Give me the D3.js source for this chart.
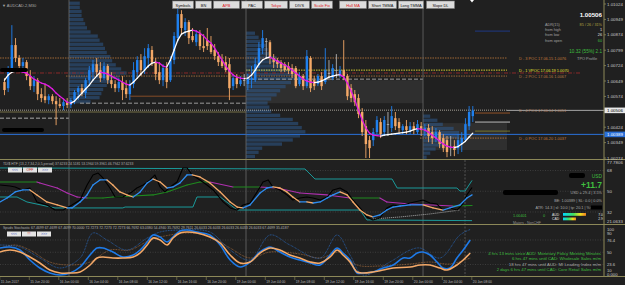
<!DOCTYPE html>
<html>
<head>
<meta charset="utf-8">
<script src="https://cdn.jsdelivr.net/npm/d3@7"></script>
<style>
body { margin: 0; background: #202020; }
svg { display: block; }
text { font-family: "Liberation Sans", Arial, sans-serif; }
</style>
</head>
<body>
<div id="chart-area"></div>
<script>
// AUDCAD M30, 15 Jun 16:00 .. 20 Jun 08:00 (bar index 0..127)
var ohlc = [
 [1.00644,1.00663,1.00580,1.00605],[1.00614,1.00722,1.00595,1.00702],[1.00702,1.00921,1.00692,1.00824],[1.00824,1.00858,1.00741,1.00761],
 [1.00761,1.00775,1.00692,1.00722],[1.00722,1.00761,1.00702,1.00741],[1.00741,1.00751,1.00653,1.00673],[1.00673,1.00702,1.00605,1.00624],
 [1.00624,1.00673,1.00595,1.00653],[1.00653,1.00663,1.00556,1.00585],[1.00585,1.00614,1.00546,1.00566],[1.00575,1.00634,1.00541,1.00556],
 [1.00556,1.00585,1.00536,1.00575],[1.00575,1.00585,1.00536,1.00551],[1.00551,1.00575,1.00434,1.00536],[1.00536,1.00566,1.00517,1.00527],
 [1.00527,1.00556,1.00507,1.00546],[1.00546,1.00566,1.00517,1.00532],[1.00532,1.00566,1.00517,1.00556],[1.00556,1.00605,1.00536,1.00595],
 [1.00595,1.00624,1.00556,1.00614],[1.00614,1.00634,1.00575,1.00590],[1.00590,1.00663,1.00566,1.00653],[1.00653,1.00722,1.00634,1.00702],
 [1.00692,1.00751,1.00653,1.00731],[1.00731,1.00761,1.00673,1.00692],[1.00702,1.00741,1.00644,1.00663],[1.00663,1.00741,1.00653,1.00722],
 [1.00722,1.00731,1.00634,1.00653],[1.00653,1.00692,1.00614,1.00634],[1.00634,1.00653,1.00595,1.00614],[1.00614,1.00663,1.00595,1.00644],
 [1.00644,1.00673,1.00556,1.00605],[1.00614,1.00653,1.00566,1.00585],[1.00585,1.00653,1.00556,1.00634],[1.00634,1.00741,1.00614,1.00702],
 [1.00692,1.00770,1.00663,1.00751],[1.00751,1.00780,1.00673,1.00702],[1.00702,1.00809,1.00683,1.00770],[1.00761,1.00829,1.00712,1.00809],
 [1.00800,1.00819,1.00722,1.00741],[1.00741,1.00761,1.00653,1.00683],[1.00692,1.00741,1.00634,1.00653],[1.00653,1.00731,1.00624,1.00712],
 [1.00712,1.00741,1.00614,1.00644],[1.00653,1.00770,1.00644,1.00751],[1.00751,1.00887,1.00731,1.00868],[1.00858,1.01004,1.00838,1.00975],
 [1.00975,1.00994,1.00877,1.00907],[1.00897,1.00955,1.00868,1.00936],[1.00936,1.00946,1.00829,1.00858],[1.00868,1.00907,1.00838,1.00848],
 [1.00838,1.00897,1.00819,1.00877],[1.00877,1.00897,1.00800,1.00819],[1.00819,1.00877,1.00790,1.00809],[1.00848,1.00907,1.00800,1.00819],
 [1.00829,1.00868,1.00780,1.00790],[1.00800,1.00829,1.00751,1.00770],[1.00770,1.00790,1.00722,1.00741],[1.00751,1.00780,1.00712,1.00722],
 [1.00741,1.00770,1.00692,1.00702],[1.00731,1.00761,1.00556,1.00614],[1.00624,1.00683,1.00605,1.00663],[1.00663,1.00683,1.00614,1.00634],
 [1.00634,1.00673,1.00624,1.00653],[1.00653,1.00683,1.00624,1.00653],[1.00634,1.00683,1.00605,1.00663],[1.00653,1.00722,1.00614,1.00663],
 [1.00653,1.00761,1.00644,1.00731],[1.00731,1.00838,1.00712,1.00809],[1.00809,1.00897,1.00780,1.00858],[1.00843,1.00858,1.00761,1.00843],
 [1.00838,1.00848,1.00731,1.00761],[1.00761,1.00780,1.00712,1.00741],[1.00751,1.00761,1.00712,1.00731],[1.00741,1.00751,1.00692,1.00712],
 [1.00731,1.00741,1.00692,1.00702],[1.00722,1.00741,1.00683,1.00702],[1.00712,1.00731,1.00663,1.00683],[1.00712,1.00722,1.00614,1.00624],
 [1.00634,1.00692,1.00624,1.00673],[1.00673,1.00683,1.00605,1.00624],[1.00624,1.00800,1.00614,1.00770],[1.00761,1.00770,1.00595,1.00614],
 [1.00653,1.00673,1.00605,1.00624],[1.00634,1.00683,1.00624,1.00673],[1.00673,1.00692,1.00605,1.00624],[1.00644,1.00809,1.00634,1.00702],
 [1.00688,1.00751,1.00653,1.00688],[1.00663,1.00731,1.00653,1.00712],[1.00702,1.00780,1.00663,1.00702],[1.00673,1.00722,1.00663,1.00702],
 [1.00702,1.00848,1.00653,1.00673],[1.00673,1.00683,1.00556,1.00575],[1.00614,1.00634,1.00546,1.00566],[1.00585,1.00605,1.00527,1.00546],
 [1.00566,1.00585,1.00468,1.00488],[1.00498,1.00517,1.00381,1.00400],[1.00429,1.00459,1.00274,1.00342],[1.00361,1.00381,1.00274,1.00322],
 [1.00361,1.00420,1.00332,1.00400],[1.00400,1.00478,1.00390,1.00459],[1.00449,1.00468,1.00371,1.00390],[1.00400,1.00478,1.00381,1.00459],
 [1.00439,1.00498,1.00381,1.00439],[1.00420,1.00527,1.00400,1.00478],[1.00468,1.00498,1.00410,1.00429],[1.00449,1.00468,1.00400,1.00420],
 [1.00410,1.00439,1.00390,1.00429],[1.00429,1.00459,1.00390,1.00410],[1.00410,1.00449,1.00390,1.00429],[1.00429,1.00449,1.00390,1.00410],
 [1.00400,1.00459,1.00390,1.00439],[1.00429,1.00449,1.00381,1.00410],[1.00410,1.00439,1.00381,1.00420],[1.00420,1.00439,1.00351,1.00381],
 [1.00400,1.00429,1.00342,1.00371],[1.00371,1.00420,1.00351,1.00400],[1.00400,1.00410,1.00322,1.00342],[1.00371,1.00390,1.00303,1.00322],
 [1.00361,1.00381,1.00278,1.00303],[1.00327,1.00381,1.00283,1.00327],[1.00332,1.00361,1.00283,1.00313],[1.00322,1.00390,1.00293,1.00361],
 [1.00342,1.00400,1.00303,1.00371],[1.00361,1.00468,1.00351,1.00439],[1.00429,1.00527,1.00410,1.00498],[1.00478,1.00527,1.00449,1.00506]
];

var hullMA = [
 1.00653,1.00678,1.00692,1.00697,1.00697,1.00692,1.00688,1.00673,1.00658,1.00649,
 1.00639,1.00634,1.00624,1.00610,1.00590,1.00575,1.00561,1.00546,1.00541,1.00551,
 1.00571,1.00590,1.00610,1.00629,1.00653,1.00673,1.00692,1.00688,1.00683,1.00673,
 1.00663,1.00653,1.00644,1.00634,1.00629,1.00644,1.00663,1.00683,1.00702,1.00722,
 1.00736,1.00741,1.00736,1.00722,1.00717,1.00751,1.00800,1.00848,1.00877,1.00887,
 1.00892,1.00897,1.00892,1.00882,1.00868,1.00848,1.00834,1.00809,1.00780,1.00751,
 1.00722,1.00697,1.00678,1.00668,1.00663,1.00661,1.00663,1.00678,1.00702,1.00731,
 1.00751,1.00761,1.00765,1.00756,1.00746,1.00736,1.00727,1.00717,1.00702,1.00688,
 1.00673,1.00658,1.00649,1.00644,1.00641,1.00644,1.00649,1.00658,1.00668,1.00673,
 1.00678,1.00680,1.00668,1.00639,1.00600,1.00556,1.00507,1.00459,1.00420,1.00395,
 1.00385,1.00383,1.00381,1.00385,1.00388,1.00390,1.00393,1.00395,1.00398,1.00400,
 1.00405,1.00412,1.00417,1.00415,1.00410,1.00400,1.00385,1.00371,1.00356,1.00342,
 1.00332,1.00327,1.00325,1.00330,1.00342,1.00356,1.00376,1.00395
];

// day separators (between bars) and TPO profiles: top price, 2-pip rows, TPO counts
var daySeparators = [17.5, 65.5, 113.5];
var profileTops = [1.01028, 1.00882, 1.00478];
var profileCounts = [
 [6,6,7,7,8,9,10,12,16,17,19,20,21,23,24,26,29,32,28,24,21,19,18,17,12],
 [5,7,8,11,12,14,17,19,23,27,30,29,25,22,19,17,14,12,13,14,19,26,29,31,33,30,26,20,9,7,5],
 [4,8,11,17,20,19,14,11,7,4,2]
];

var pocPrices = [1.00761, 1.00702, 1.00673, 1.00507, 1.00371];
var pocLabels = ["D - 3 POC 17.06.15 1.0076", "D - 1 VPOC 17.06.19 1.0070", "D - 2 POC 17.06.16 1.0067",
                 "D - 4 POC 17.06.14 1.0051", "D - 0 POC 17.06.20 1.0037"];
var pocColors = ["#c07a3a", "#e8e030", "#b87a40", "#d8d0c0", "#c07a3a"];
var bidPrice = 1.00506, bePrice = 1.00389, pivotPrice = 1.00688;
var prevDayLevels = [1.00468, 1.00541, 1.00658];
var targetPrices = [1.00493, 1.00449, 1.00405];

var priceTicks = [1.01024, 1.00949, 1.00874, 1.00799, 1.00724, 1.00649, 1.00574, 1.00424, 1.00349, 1.00274];
var timeLabels = ["15 Jun 2017","15 Jun 20:00","16 Jun 00:00","16 Jun 04:00","16 Jun 08:00","16 Jun 12:00","16 Jun 16:00",
 "16 Jun 20:00","19 Jun 00:00","19 Jun 04:00","19 Jun 08:00","19 Jun 12:00","19 Jun 16:00","19 Jun 20:00",
 "20 Jun 00:00","20 Jun 04:00","20 Jun 08:00"];
var timeTickBars = [-1, 7, 15, 23, 31, 39, 47, 55, 63, 71, 79, 87, 95, 103, 111, 119, 127];

// TDI lines [bar, value]
var tdiRsi = [[-1.2,55.4],[1.5,54.6],[2.9,53.7],[4.8,51.1],[6.9,52.8],[8.8,40.7],[11.5,38.1],[13.7,33.7],[15.9,33.7],[18.3,38.1],
 [20.5,42.4],[22.4,55.4],[24,64.1],[25.4,65.8],[26.7,61.5],[28.6,52.8],[30,45],[32.1,45],[34.6,49.4],[35.9,52.8],[37.6,55.4],
 [39.5,59.8],[40.8,64.1],[42.2,53.7],[43.5,49.4],[44.9,53.7],[46.8,58],[48.4,70.2],[49.5,70.2],[50.9,64.1],[53,59.8],[54.9,55.4],
 [56.6,51.1],[59.3,40.7],[61.2,35.5],[63.1,33.7],[64.7,38.1],[66.6,39.8],[68.5,49.4],[70.1,58],[71.5,59.8],[72.8,53.7],[74.7,51.1],
 [76.6,46.8],[78.2,42.4],[80.1,44.1],[82,45],[83.7,44.1],[85.6,42.4],[87.5,45],[89.1,51.1],[91,52.8],[92.9,49.4],[94.5,42.4],
 [96.4,35.5],[98.3,27.7],[99.9,25.1],[101.8,26.8],[103.7,35.5],[105.4,38.1],[107.3,37.2],[110,39.8],[113.5,42.4],[115.4,39.8],
 [117.3,38.9],[118.9,33.7],[120.8,35.5],[122.7,33.7],[124.1,38.1],[125.4,46.8],[126.8,53.2]];
var tdiSignal = [[-1.2,40.7],[0.7,44.1],[2.9,49.4],[5,51.1],[6.9,51.1],[8.8,46.8],[11.5,40.7],[14.3,38.1],[17,35.5],[18.3,35.5],
 [20.5,40.7],[22.4,46.8],[24,55.4],[25.9,59.8],[27.8,59.8],[29.4,55.4],[31.3,49.4],[33.2,46.8],[34.9,45],[36.8,49.4],[38.7,57.2],
 [40.3,60.6],[42.2,58],[44.1,52.8],[45.7,53.7],[47.6,57.2],[49.5,64.1],[50.9,64.1],[53,62.4],[55.7,57.2],[58.5,49.4],[61.2,40.7],
 [63.1,36.3],[64.7,35.5],[66.6,38.1],[69.3,48.5],[71.2,52.8],[72.8,53.7],[74.7,52.8],[76.6,49.4],[78.2,45],[80.1,40.7],[82,40.7],
 [83.7,39.8],[85.6,40.7],[87.5,44.1],[89.1,46.8],[91,49.4],[92.9,46.8],[94.5,40.7],[96.4,33.7],[98.3,29.4],[99.9,27.7],[101.8,29.4],
 [103.7,33.7],[105.4,36.3],[107.3,37.2],[110,38.1],[113.5,38.1],[116.2,35.5],[118.9,33.7],[120.8,35.5],[123.5,38.1],[125.4,44.1],[126.8,46.8]];
var tdiBase = [[-1.2,58],[8.8,58],[9.6,57.2],[14.3,52.8],[17,48.5],[19.7,45],[22.4,44.1],[26.7,44.1],[29.4,45],[34.9,45.9],[40.3,46.8],
 [44.1,49.4],[49.5,55.4],[53,58],[55.7,58],[62,53.7],[69.3,53.7],[73.9,52.8],[80.1,48.5],[87.5,46.8],[93.7,44.1],[101.8,44.1],
 [103.7,40.7],[110,38.9],[121.6,37.2],[126.8,37.6]];
var tdiUpper = [[-1.2,70.2],[81.5,69.3],[84.2,60.6],[105.1,60.6],[106.5,52.8],[122.7,52.8],[123.5,50.2],[124.9,50.2],[126.8,59.4]];
var tdiLower = [[-1.2,45],[3.4,45],[6.1,40.7],[13.7,35.5],[32.1,35.5],[32.7,36.3],[51.1,36.3],[52.2,45],[58.5,45],[63.1,33.7],
 [96.4,33.7],[98.3,25.1],[126.8,24.5]];
var tdiDotted = [[99.9,25.9],[107.3,27.7],[115.4,30.3],[123.5,33.7]];
var tdiLevels = [68, 50, 32];

// Spuds stochastic [bar, value]
var stochSlow = [[-1.2,50.5],[1.5,54.8],[4.2,50.5],[6.9,39.8],[9.6,26.9],[12.3,11.8],[15.1,5.4],[17.8,5.4],[20.5,7.5],[23.2,22.6],
 [25.1,37.6],[26.7,39.8],[29.4,37.6],[32.1,37.6],[34.9,39.8],[36.8,48.4],[38.7,65.6],[40.3,80.6],[42.2,76.3],[44.1,65.6],[45.7,80.6],
 [47.6,91.4],[49.5,93.5],[52.2,91.4],[55.7,82.8],[58.5,69.9],[61.2,44.1],[63.9,26.9],[66.6,29],[69.3,48.4],[72,59.1],[74.7,54.8],
 [77.4,44.1],[80.1,37.6],[82.9,29],[85.6,26.9],[88.3,39.8],[90.2,54.8],[91.8,44.1],[93.7,29],[95.6,7.5],[97.2,5.4],[99.9,7.5],
 [102.7,11.8],[105.4,16.1],[110,18.3],[112.7,22.6],[115.4,22.6],[118.1,16.1],[120,11.8],[122.7,22.6],[124.4,33.3],[126.3,48.4]];
var stochFast = [[-1.2,59.1],[1.5,61.3],[4.2,54.8],[6.9,33.3],[9.6,16.1],[12.3,5.4],[15.1,1.1],[17.8,5.4],[20.5,18.3],[23.2,44.1],
 [25.1,59.1],[26.7,59.1],[29.4,50.5],[32.1,39.8],[34.9,44.1],[36.8,54.8],[38.7,72],[40.3,87.1],[42.2,82.8],[44.1,72],[45.7,82.8],
 [47.6,95.7],[49.5,97.8],[52.2,93.5],[55.7,87.1],[58.5,65.6],[61.2,33.3],[63.9,18.3],[66.6,29],[69.3,50.5],[72,61.3],[74.7,50.5],
 [77.4,39.8],[80.1,33.3],[82.9,26.9],[85.6,22.6],[88.3,44.1],[90.2,59.1],[91.8,48.4],[93.7,33.3],[95.6,5.4],[97.2,5.4],[99.9,7.5],
 [102.7,16.1],[105.4,22.6],[108.1,37.6],[110,37.6],[111.9,48.4],[113.5,50.5],[115.4,44.1],[117.3,29],[118.9,16.1],[120.8,16.1],
 [122.7,37.6],[124.4,54.8],[126.3,76.3]];
var stochFastEdge = [[-1.2,65.6],[4.2,61.3],[9.6,37.6],[15.1,16.1],[20.5,37.6],[24,91.4],[27.8,76.3],[33.2,54.8],[38.7,80.6],[42.2,93.5],
 [47.6,97.8],[55.7,93.5],[61.2,54.8],[66.6,33.3],[72,87.1],[77.4,65.6],[85.6,37.6],[90.2,87.1],[93.7,44.1],[97.2,1.1],[104.5,29],
 [110,54.8],[112.7,59.1],[118.1,37.6],[123.5,87.1],[126.3,99]];
var stochSlowEdge = [[-1.2,59.1],[2.9,65.6],[6.9,54.8],[12.3,29],[17.8,22.6],[23.2,29],[28.6,54.8],[34,54.8],[39.5,76.3],[44.9,87.1],
 [50.3,91.4],[55.7,84.9],[61.2,59.1],[66.6,37.6],[72,50.5],[80.1,46.2],[85.6,37.6],[91,50.5],[95.6,22.6],[101.8,20.4],[110,24.7],
 [115.4,29],[120.8,24.7],[126.3,37.6]];
var stochLevels = [76.4, 50, 23.6];
var stochTicks = ["100","90","76.4","50","23.6","10","0.000"];
var stochTickValues = [100, 90, 76.4, 50, 23.6, 10, 0];

var toolButtons = ["Symbols","BN","APB","PAC","Tokyo","DIVS","Scale Fix","Hull MA","Short TMMA","Long TMMA","Slope DL"];
var toolButtonRed = [0,0,1,0,1,0,1,1,0,0,0];
var toolButtonEdges = [[172,194],[195,212],[213,240],[241,263],[264,288],[289,310],[311,333],[339,367],[368,397],[398,424],[426,455]];

var newsLines = ["4 hrs 13 mins since AUD: Monetary Policy Meeting Minutes", "6 hrs 47 mins until CAD: Wholesale Sales m/m",
 "18 hrs 47 mins until AUD: MI Leading Index m/m", "2 days 6 hrs 47 mins until CAD: Core Retail Sales m/m"];
var newsColors = ["#3fbf3f", "#3fbf3f", "#a8a8a8", "#3fbf3f"];

// ---------- layout ----------
var W = 625, H = 285, axisX = 604;
var svg = d3.select("#chart-area").append("svg").attr("width", W).attr("height", H);
svg.append("rect").attr("width", W).attr("height", H).attr("fill", "#202020");

var x = d3.scaleLinear().domain([0, 127]).range([4.47, 472.8]);
var y = d3.scaleLinear().domain([1.00274, 1.01024]).range([158, 4]);
var yT = d3.scaleLinear().domain([21.0633, 77.7806]).range([224.6, 159.2]);
var yS = d3.scaleLinear().domain([0, 100]).range([275.5, 229]);

var defs = svg.append("defs");
function clip(id, y0, y1) {
  defs.append("clipPath").attr("id", id).append("rect").attr("x", 0).attr("y", y0).attr("width", axisX).attr("height", y1 - y0);
}
clip("cp", 0, 159); clip("ct", 160, 224); clip("cs", 225, 276);
var grad = defs.append("linearGradient").attr("id", "ccy");
grad.append("stop").attr("offset", "0%").attr("stop-color", "#00d8ff");
grad.append("stop").attr("offset", "45%").attr("stop-color", "#40e060");
grad.append("stop").attr("offset", "75%").attr("stop-color", "#f0e020");
grad.append("stop").attr("offset", "100%").attr("stop-color", "#f08020");

function txt(g, s, tx, ty, size, color, anchor, weight) {
  return g.append("text").attr("x", tx).attr("y", ty).attr("font-size", size).attr("fill", color)
    .attr("text-anchor", anchor || "start").attr("font-weight", weight || "normal").text(s);
}
function hline(g, yy, x0, x1, color, w, dash) {
  g.append("line").attr("x1", x0).attr("x2", x1).attr("y1", yy).attr("y2", yy)
    .attr("stroke", color).attr("stroke-width", w).attr("stroke-dasharray", dash || null);
}
function polyline(g, pts, ys, color, w, dash, curve) {
  g.append("path").datum(pts)
    .attr("d", d3.line().x(d => x(d[0])).y(d => ys(d[1])).curve(curve || d3.curveLinear))
    .attr("fill", "none").attr("stroke", color).attr("stroke-width", w)
    .attr("stroke-dasharray", dash || null).attr("stroke-linejoin", "round");
}
function dirLine(g, pts, ys, up, down, w) {
  for (var i = 1; i < pts.length; i++) {
    var a = pts[i - 1], b = pts[i];
    g.append("line").attr("x1", x(a[0])).attr("y1", ys(a[1])).attr("x2", x(b[0])).attr("y2", ys(b[1]))
      .attr("stroke", b[1] >= a[1] ? up : down).attr("stroke-width", w).attr("stroke-linecap", "round");
  }
}

// ---------- price pane ----------
var gp = svg.append("g").attr("clip-path", "url(#cp)");

// session boxes
gp.append("rect").attr("x", x(daySeparators[1])).attr("width", x(daySeparators[2]) - x(daySeparators[1]))
  .attr("y", y(1.00653)).attr("height", y(1.00541) - y(1.00653)).attr("fill", "#3a3a3a").attr("opacity", 0.6);
gp.append("rect").attr("x", x(daySeparators[2])).attr("width", 84)
  .attr("y", y(1.00444)).attr("height", y(1.00313) - y(1.00444)).attr("fill", "#3a3a3a").attr("opacity", 0.6);

// TPO profiles
profileCounts.forEach(function (counts, k) {
  var x0 = x(daySeparators[k]);
  gp.selectAll(null).data(counts).enter().append("rect")
    .attr("x", x0).attr("width", d => d * 1.8)
    .attr("y", (d, i) => y(profileTops[k] - i * 0.0002) - 1.6)
    .attr("height", y(1.00274) - y(1.00294) - 0.8)
    .attr("fill", "#2e5a8c").attr("opacity", 0.55);
});

// day separators
daySeparators.forEach(function (b) {
  svg.append("line").attr("x1", x(b)).attr("x2", x(b)).attr("y1", 0).attr("y2", 276)
    .attr("stroke", "#6a6a6a").attr("stroke-width", 0.8);
});
svg.append("line").attr("x1", 465).attr("x2", 465).attr("y1", 160).attr("y2", 276)
  .attr("stroke", "#777").attr("stroke-width", 0.6).attr("stroke-dasharray", "2,1.5");

// level lines
hline(gp, y(pocPrices[0]), 0, 507, pocColors[0], 0.8, "1.5,1");
hline(gp, y(pocPrices[1]), x(daySeparators[1]), 507, pocColors[1], 0.9, "1.5,1");
hline(gp, y(pocPrices[2]), 66, 507, pocColors[2], 0.8, "1.5,1");
hline(gp, y(pivotPrice), 0, 580, "#8a2a2a", 1, "4,1.5,1,1.5");
hline(gp, y(prevDayLevels[0]), 0, x(daySeparators[0]), "#cfcfcf", 0.8, "4,2");
hline(gp, y(prevDayLevels[1]), 80, x(daySeparators[1]), "#9a9a9a", 1, "4,2");
hline(gp, y(prevDayLevels[2]), x(daySeparators[1]), x(daySeparators[2]), "#bdbdbd", 0.8, "4,2");
hline(gp, y(1.00498), 0, x(daySeparators[1]), "#8a8450", 0.8);
hline(gp, y(1.00575), 130, x(daySeparators[1]), "#a0582a", 0.8);
hline(gp, y(pocPrices[4]), 420, 507, pocColors[4], 0.8, "1.5,1");
hline(gp, y(pocPrices[3]), 0, 507, "#e0d8c8", 0.7, "1,1");
hline(gp, y(bidPrice), 507, axisX, "#c8c8c8", 0.8);
hline(gp, y(bePrice), 0, axisX, "#2a70d8", 1);
hline(gp, y(targetPrices[0]), 475, 510, "#b0602a", 0.8);
hline(gp, y(targetPrices[1]), 475, 510, "#e8e8e8", 0.8);
hline(gp, y(targetPrices[2]), 475, 510, "#8a8a30", 0.8);
hline(gp, y(1.00892), 475, 510, "#2040a0", 0.8);

// candles
var candle = gp.selectAll(".c").data(ohlc).enter().append("g");
function cColor(d) { return d[3] > d[0] ? "#1f80ee" : (d[3] < d[0] ? "#f4a968" : "#b4b4b4"); }
candle.append("line").attr("x1", (d, i) => x(i)).attr("x2", (d, i) => x(i))
  .attr("y1", d => y(d[1])).attr("y2", d => y(d[2])).attr("stroke", cColor).attr("stroke-width", 0.9);
candle.append("rect").attr("x", (d, i) => x(i) - 1.2).attr("width", 2.4)
  .attr("y", d => y(Math.max(d[0], d[3]))).attr("height", d => Math.max(0.8, Math.abs(y(d[0]) - y(d[3]))))
  .attr("fill", cColor);

// hull MA: white rising, magenta falling
dirLine(gp, hullMA.map((v, i) => [i, v]), y, "#ffffff", "#e21ce2", 1.3);

// censored marks
gp.append("rect").attr("x", 0).attr("y", 68).attr("width", 28).attr("height", 4).attr("rx", 2).attr("fill", "#000");
gp.append("rect").attr("x", 2).attr("y", 128).attr("width", 42).attr("height", 4).attr("rx", 2).attr("fill", "#000");

// POC labels
[0, 1, 2, 3, 4].forEach(function (k) {
  txt(svg, pocLabels[k], 519, y(pocPrices[k]) + 1.8, 3.9, pocColors[k] === "#d8d0c0" ? "#b08060" : pocColors[k]);
});
txt(svg, "TPO Profile", 577, y(pocPrices[0]) + 2.3, 3.9, "#a0a0a0");

// info block
txt(svg, "1.00506", 602, 17, 6.2, "#ffffff", "end", "bold");
txt(svg, "ADR(15)", 545, 25.5, 3.8, "#a0a0a0");
txt(svg, "85 / 26 / 31%", 602, 25.5, 3.8, "#b0a040", "end");
txt(svg, "from high", 545, 31, 3.8, "#a0a0a0"); txt(svg, "1", 602, 31, 3.8, "#e0e0e0", "end");
txt(svg, "from low", 545, 36.3, 3.8, "#a0a0a0"); txt(svg, "26", 602, 36.3, 3.8, "#e0e0e0", "end");
txt(svg, "from open", 545, 41.6, 3.8, "#a0a0a0"); txt(svg, "60", 602, 41.6, 3.8, "#3fbf3f", "end");
txt(svg, "10.32 (55%) 2.1", 602, 53, 4.6, "#3fbf3f", "end");

txt(svg, "\u25BC AUDCAD-2,M30", 2, 6.5, 4, "#a8a8a8");

// toolbar
toolButtons.forEach(function (b, i) {
  var e = toolButtonEdges[i];
  svg.append("rect").attr("x", e[0] + 0.5).attr("y", 1).attr("width", e[1] - e[0] - 1).attr("height", 7.5)
    .attr("fill", "#dcdcdc").attr("stroke", "#7a7a7a").attr("stroke-width", 0.6);
  txt(svg, b, (e[0] + e[1]) / 2, 6.6, 3.9, toolButtonRed[i] ? "#e02020" : "#101010", "middle");
});
svg.append("path").attr("d", "M470,0 L474,0 L472,2.5 Z").attr("fill", "#ffffff");

// ---------- TDI pane ----------
var gt = svg.append("g").attr("clip-path", "url(#ct)");
tdiLevels.forEach(v => hline(gt, yT(v), 0, axisX, "#505050", 0.6, "1,1.5"));
polyline(gt, tdiUpper, yT, "#1a9a9a", 1);
polyline(gt, tdiLower, yT, "#1a9a9a", 1);
polyline(gt, tdiDotted, yT, "#d0d0d0", 0.8, "1,1");
dirLine(gt, tdiBase, yT, "#1e8a1e", "#b030b0", 1.1);
polyline(gt, tdiRsi, yT, "#000000", 1.1);
dirLine(gt, tdiSignal, yT, "#2d8cf0", "#f4a968", 1.3);

txt(svg, "TDI$ HTF (13,2,7,34,2,0,5,period) 37.6233 24.5181 53.1964 59.3961 46.7942 37.6233", 3, 164.6, 3.4, "#b0b0b0");
[["<<<", "#3050c0"], ["OFF", "#c02020"], [">>>", "#3050c0"]].forEach(function (b, i) {
  svg.append("rect").attr("x", 8 + i * 15).attr("y", 167.5).attr("width", 14).attr("height", 5).attr("fill", "#e4e4e4");
  txt(svg, b[0], 15 + i * 15, 171.4, 3.4, b[1], "middle");
});

// trade panel
svg.append("rect").attr("x", 569).attr("y", 173).attr("width", 16).attr("height", 5).attr("rx", 2).attr("fill", "#000");
txt(svg, "USD", 602, 177.5, 4.8, "#3fbf3f", "end");
txt(svg, "+11.7", 602, 188, 8.5, "#3fbf3f", "end", "bold");
svg.append("rect").attr("x", 503).attr("y", 190).attr("width", 55).attr("height", 5).attr("rx", 2).attr("fill", "#000");
txt(svg, "USD = 29.4 | 3.5%", 602, 194.3, 3.8, "#a8a8a8", "end");
txt(svg, "BE: 1.00389 | SL: 0.0 | 0.0%", 602, 201.5, 3.8, "#a8a8a8", "end");
txt(svg, "ATR: 14.3 | sl: 10.0 | tp: 20.1 | %:", 591, 209, 3.8, "#a8a8a8", "end");
svg.append("rect").attr("x", 591).attr("y", 205.5).attr("width", 11).attr("height", 4).attr("fill", "#000");
txt(svg, "1.00401", 513, 216.5, 3.8, "#3fbf3f");
txt(svg, "0", 543, 216.5, 3.8, "#3fbf3f");
txt(svg, "AUD", 552, 215.5, 3.4, "#e0e0e0");
txt(svg, "CAD", 552, 220, 3.4, "#e0e0e0");
svg.append("rect").attr("x", 563).attr("y", 213).attr("width", 23).attr("height", 2.8).attr("fill", "url(#ccy)");
svg.append("rect").attr("x", 563).attr("y", 217.5).attr("width", 13).attr("height", 2.8).attr("fill", "url(#ccy)");
txt(svg, "7.0", 603, 216, 3.4, "#e0e0e0", "end");
txt(svg, "2.9", 603, 220.4, 3.4, "#e0e0e0", "end");
txt(svg, "Majors - NonCHF", 513, 223.6, 3.6, "#909090");

// ---------- stochastic pane ----------
var gs = svg.append("g").attr("clip-path", "url(#cs)");
stochLevels.forEach(v => hline(gs, yS(v), 0, axisX, "#505050", 0.6, "1,1.5"));
polyline(gs, stochSlowEdge, yS, "#c07a40", 0.7, "0.8,0.8", d3.curveCatmullRom);
polyline(gs, stochFastEdge, yS, "#2a78e0", 0.7, "0.8,0.8", d3.curveCatmullRom);
polyline(gs, stochFast, yS, "#1e7ae8", 1.6, null, d3.curveCatmullRom);
polyline(gs, stochSlow, yS, "#f4a968", 1.6, null, d3.curveCatmullRom);

txt(svg, "Spuds Stochastic 67.4699 67.4699 67.4699 70.0000 72.7273 72.7273 72.7273 66.7692 63.0380 54.4940 35.7692 29.7611 26.6033 26.6033 26.6033 26.6033 26.6033 67.4699 35.4187",
  3, 229.3, 3.5, "#b0b0b0");
[["<<<", "#3050c0"], ["!!!", "#d02020"], [">>>", "#3050c0"]].forEach(function (b, i) {
  svg.append("rect").attr("x", 7 + i * 15).attr("y", 231.5).attr("width", 14).attr("height", 5).attr("fill", "#e4e4e4");
  txt(svg, b[0], 14 + i * 15, 235.4, 3.4, b[1], "middle");
});
newsLines.forEach(function (s, i) {
  txt(svg, s, 601, 254.5 + i * 5.6, 4.3, newsColors[i], "end");
});

// ---------- separators and axes ----------
[159.5, 224.5, 276.5].forEach(v => hline(svg, v, 0, W, "#8c8858", 1.2));
svg.append("line").attr("x1", axisX).attr("x2", axisX).attr("y1", 0).attr("y2", 277)
  .attr("stroke", "#8c8858").attr("stroke-width", 1);
svg.append("rect").attr("x", axisX + 0.5).attr("y", 0).attr("width", W - axisX).attr("height", H).attr("fill", "#202020").lower();
svg.select("rect").lower();

priceTicks.forEach(function (p) {
  hline(svg, y(p), axisX, axisX + 2, "#8c8858", 0.8);
  txt(svg, p.toFixed(5), axisX + 3, y(p) + 1.6, 4.4, "#c8c8c8");
});
svg.append("rect").attr("x", axisX + 0.5).attr("y", y(bidPrice) - 2.8).attr("width", 20.5).attr("height", 5.6).attr("fill", "#e8e8e8");
txt(svg, "1.00506", axisX + 3, y(bidPrice) + 1.6, 4.4, "#000");
svg.append("rect").attr("x", axisX + 0.5).attr("y", y(bePrice) - 2.8).attr("width", 20.5).attr("height", 5.6).attr("fill", "#2a70d8");
txt(svg, "1.00389", axisX + 3, y(bePrice) + 1.6, 4.4, "#fff");

txt(svg, "77.7806", axisX + 3, 164.3, 4.4, "#c8c8c8");
tdiLevels.forEach(v => txt(svg, String(v), axisX + 3, yT(v) + 1.6, 4.4, "#c8c8c8"));
txt(svg, "21.0633", axisX + 3, 223.3, 4.4, "#c8c8c8");
stochTicks.forEach(function (s, i) {
  var v = stochTickValues[i];
  txt(svg, s, axisX + 3, Math.min(yS(v) + 1.6, 276), 4.2, "#c8c8c8");
});

timeLabels.forEach(function (s, i) {
  var tx = x(timeTickBars[i]);
  svg.append("line").attr("x1", tx - 1).attr("x2", tx - 1).attr("y1", 277).attr("y2", 280).attr("stroke", "#8c8858").attr("stroke-width", 0.6);
  txt(svg, s, tx, 282.5, 3.3, "#b8b8b8");
});
</script>
</body>
</html>
